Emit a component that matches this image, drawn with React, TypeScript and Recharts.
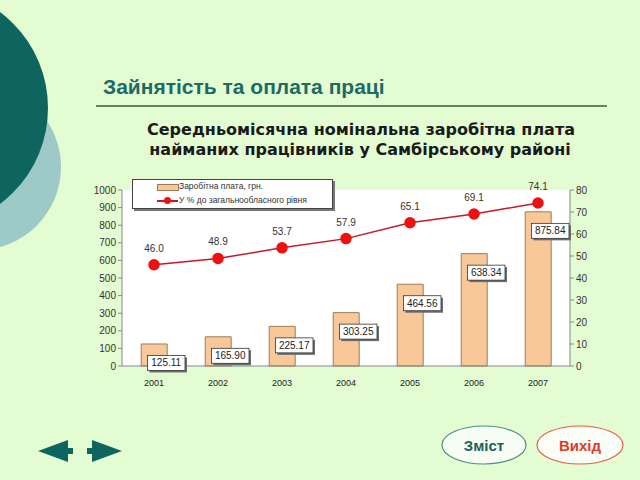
import React from 'react';
import { ComposedChart, Bar, Line, XAxis, YAxis, CartesianGrid, LabelList } from 'recharts';

const years = ['2001', '2002', '2003', '2004', '2005', '2006', '2007'];
const wages = [125.11, 165.9, 225.17, 303.25, 464.56, 638.34, 875.84];
const percents = [46.0, 48.9, 53.7, 57.9, 65.1, 69.1, 74.1];
const leftTicks = [0, 100, 200, 300, 400, 500, 600, 700, 800, 900, 1000];
const rightTicks = [0, 10, 20, 30, 40, 50, 60, 70, 80];

const titleText = 'Зайнятість та оплата праці';
const subtitleLines = ['Середньомісячна номінальна заробітна плата', 'найманих працівників у Самбірському районі'];
const legendWage = 'Заробітна плата, грн.';
const legendPct = 'У %  до загальнообласного рівня';
const navContents = 'Зміст';
const navExit = 'Вихід';

const data = years.map((y, i) => ({ year: y, wage: wages[i], pct: percents[i] }));

const FONT = '"Liberation Sans", Arial, sans-serif';

const BarValueLabel = (props: any) => {
  const { x, y, width, value } = props;
  const text = Number(value).toFixed(2);
  const w = text.length * 5.6 + 4;
  const h = 15;
  const cx = x + width / 2 + 12;
  const cy = y + 19;
  return (
    <g>
      <rect x={cx - w / 2 + 2} y={cy - h / 2 + 2} width={w} height={h} fill="#6e6e6e" />
      <rect x={cx - w / 2} y={cy - h / 2} width={w} height={h} fill="#ffffff" stroke="#333" strokeWidth={0.8} />
      <text x={cx} y={cy + 3.5} textAnchor="middle" fontSize={10} fontFamily={FONT} fill="#222">{text}</text>
    </g>
  );
};

const LineValueLabel = (props: any) => {
  const { x, y, value } = props;
  return (
    <text x={x} y={y - 13} textAnchor="middle" fontSize={10} fontFamily={FONT} fill="#333">
      {Number(value).toFixed(1)}
    </text>
  );
};

export default function App() {
  return (
    <div style={{ position: 'fixed', left: 0, top: 0, width: 640, height: 480, background: '#e3fcd2', overflow: 'hidden', fontFamily: FONT }}>
      <svg width={640} height={480} style={{ position: 'absolute', left: 0, top: 0 }}>
        <circle cx={-22} cy={167} r={83} fill="#9dc9c6" />
        <circle cx={-72} cy={108} r={120} fill="#0e655f" />
        <line x1={96} y1={106} x2={607} y2={106} stroke="#3a5a3c" strokeWidth={1.6} />
        <text x={103} y={94} fontSize={21} fontWeight="bold" fill="#1d6b66" fontFamily={FONT}>{titleText}</text>
        <text x={361} y={135} textAnchor="middle" fontSize={16} fontWeight="bold" fill="#1a1a1a" fontFamily='"DejaVu Sans", Verdana, sans-serif'>{subtitleLines[0]}</text>
        <text x={360} y={155} textAnchor="middle" fontSize={16} fontWeight="bold" fill="#1a1a1a" fontFamily='"DejaVu Sans", Verdana, sans-serif'>{subtitleLines[1]}</text>
        {/* navigation arrows */}
        <polygon points="38,451 68,440 68,448 73,448 73,454 68,454 68,462" fill="#0e655f" />
        <polygon points="122,451 92,440 92,448 87,448 87,454 92,454 92,462" fill="#0e655f" />
        {/* buttons */}
        <ellipse cx={484} cy={445} rx={42} ry={19} fill="#f6fdf4" stroke="#4f8c84" strokeWidth={1.2} />
        <text x={484} y={451} textAnchor="middle" fontSize={15} fontWeight="bold" fill="#1f5f5a" fontFamily={FONT}>{navContents}</text>
        <ellipse cx={580} cy={445} rx={43} ry={19} fill="#fbfdf7" stroke="#e0604c" strokeWidth={1.2} />
        <text x={580} y={451} textAnchor="middle" fontSize={15} fontWeight="bold" fill="#e03a28" fontFamily={FONT}>{navExit}</text>
      </svg>
      <div style={{ position: 'absolute', left: 0, top: 0 }}>
        <ComposedChart width={640} height={480} data={data} margin={{ top: 190, right: 0, bottom: 84, left: 0 }} barCategoryGap="30%">
          <CartesianGrid fill="#ffffff" horizontal={false} vertical={false} yAxisId="left" />
          <XAxis dataKey="year" height={30} tickLine={false} axisLine={{ stroke: '#888' }} tick={{ fontSize: 9, fill: '#222', fontFamily: FONT }} tickMargin={8} />
          <YAxis yAxisId="left" orientation="left" width={122} domain={[0, 1000]} ticks={leftTicks} interval={0} tickSize={4} axisLine={{ stroke: '#888' }} tickLine={{ stroke: '#888' }} tick={{ fontSize: 10, fill: '#333', fontFamily: FONT }} />
          <YAxis yAxisId="right" orientation="right" width={70} domain={[0, 80]} ticks={rightTicks} interval={0} tickSize={4} axisLine={{ stroke: '#888' }} tickLine={{ stroke: '#888' }} tick={{ fontSize: 10, fill: '#333', fontFamily: FONT }} />
          <Bar yAxisId="left" dataKey="wage" fill="#f9c899" stroke="#9c7b5c" strokeWidth={1} isAnimationActive={false}>
            <LabelList dataKey="wage" content={BarValueLabel} />
          </Bar>
          <Line yAxisId="right" dataKey="pct" stroke="#c41a24" strokeWidth={1.5} dot={{ r: 5, fill: '#ee1111', stroke: '#ee1111' }} isAnimationActive={false}>
            <LabelList dataKey="pct" content={LineValueLabel} />
          </Line>
        </ComposedChart>
      </div>
      <div style={{ position: 'absolute', left: 132, top: 179, width: 199, height: 28, background: '#fff', border: '1px solid #444', boxShadow: '2px 2px 0 #777', fontSize: 8.5, color: '#333', fontFamily: FONT }}>
        <div style={{ position: 'absolute', left: 24, top: 4, width: 20, height: 5, background: '#f9c899', border: '1px solid #9c7b5c' }} />
        <div style={{ position: 'absolute', left: 46, top: 1, whiteSpace: 'nowrap' }}>{legendWage}</div>
        <div style={{ position: 'absolute', left: 24, top: 20, width: 21, height: 1.5, background: '#c41a24' }} />
        <div style={{ position: 'absolute', left: 31, top: 17, width: 7, height: 7, borderRadius: 4, background: '#ee1111' }} />
        <div style={{ position: 'absolute', left: 46, top: 15, whiteSpace: 'nowrap' }}>{legendPct}</div>
      </div>
    </div>
  );
}
